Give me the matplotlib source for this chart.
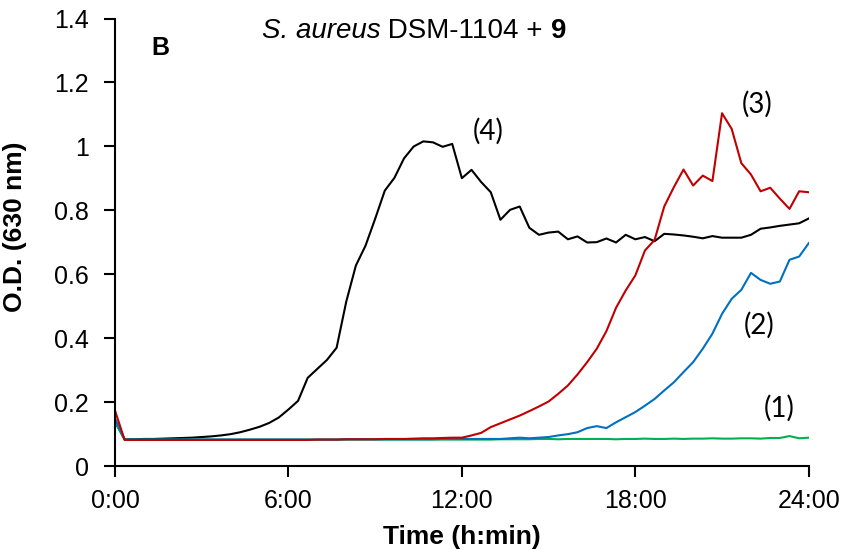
import matplotlib
matplotlib.use("Agg")
import matplotlib.pyplot as plt

# time in hours, one reading every 20 min
time_h = [i / 3 for i in range(73)]

od_4_black = [0.14, 0.085, 0.085, 0.086, 0.086, 0.087, 0.088, 0.089, 0.090, 0.092,
              0.094, 0.097, 0.101, 0.107, 0.115, 0.124, 0.136, 0.153, 0.178, 0.205,
              0.277, 0.305, 0.333, 0.371, 0.515, 0.628, 0.690, 0.774, 0.862, 0.902,
              0.963, 1.000, 1.016, 1.013, 0.999, 1.008, 0.901, 0.927, 0.889, 0.857,
              0.771, 0.802, 0.8125, 0.746, 0.724, 0.731, 0.734, 0.710, 0.719, 0.700,
              0.701, 0.7125, 0.700, 0.724, 0.710, 0.717, 0.704, 0.727, 0.725, 0.722,
              0.718, 0.713, 0.720, 0.715, 0.715, 0.715, 0.724, 0.743, 0.747, 0.752,
              0.756, 0.760, 0.775]

od_3_red = [0.175, 0.083, 0.083, 0.083, 0.083, 0.083, 0.083, 0.083, 0.083, 0.083,
            0.083, 0.083, 0.083, 0.083, 0.083, 0.083, 0.083, 0.083, 0.083, 0.083,
            0.083, 0.084, 0.084, 0.084, 0.085, 0.085, 0.085, 0.085, 0.086, 0.086,
            0.086, 0.087, 0.088, 0.088, 0.089, 0.090, 0.090, 0.097, 0.105, 0.123,
            0.135, 0.147, 0.159, 0.173, 0.1875, 0.203, 0.227, 0.253, 0.2875, 0.326,
            0.368, 0.423, 0.496, 0.550, 0.597, 0.675, 0.708, 0.8125, 0.873, 0.928,
            0.878, 0.909, 0.892, 1.104, 1.055, 0.948, 0.9125, 0.860, 0.871, 0.837,
            0.805, 0.860, 0.857]

od_2_blue = [0.15, 0.084, 0.084, 0.084, 0.084, 0.084, 0.084, 0.084, 0.084, 0.084,
             0.084, 0.084, 0.084, 0.084, 0.084, 0.084, 0.084, 0.084, 0.084, 0.084,
             0.084, 0.084, 0.084, 0.084, 0.085, 0.085, 0.085, 0.085, 0.085, 0.085,
             0.085, 0.085, 0.085, 0.085, 0.086, 0.086, 0.086, 0.086, 0.086, 0.086,
             0.086, 0.088, 0.090, 0.088, 0.090, 0.092, 0.097, 0.101, 0.107, 0.120,
             0.126, 0.120, 0.138, 0.154, 0.170, 0.190, 0.211, 0.2375, 0.263, 0.295,
             0.326, 0.368, 0.415, 0.477, 0.524, 0.552, 0.605, 0.583, 0.571, 0.578,
             0.646, 0.656, 0.698]

od_1_green = [0.14, 0.084, 0.084, 0.084, 0.084, 0.084, 0.084, 0.084, 0.084, 0.084,
              0.084, 0.084, 0.084, 0.084, 0.084, 0.084, 0.084, 0.084, 0.084, 0.084,
              0.084, 0.084, 0.084, 0.084, 0.084, 0.084, 0.084, 0.084, 0.084, 0.084,
              0.084, 0.084, 0.084, 0.084, 0.084, 0.084, 0.084, 0.084, 0.084, 0.084,
              0.085, 0.085, 0.085, 0.085, 0.086, 0.086, 0.085, 0.086, 0.086, 0.086,
              0.086, 0.086, 0.085, 0.086, 0.086, 0.087, 0.086, 0.086, 0.087, 0.086,
              0.087, 0.087, 0.088, 0.087, 0.087, 0.088, 0.088, 0.087, 0.089, 0.089,
              0.095, 0.088, 0.090]

x_ticks = [0, 6, 12, 18, 24]
x_tick_labels = ["0:00", "6:00", "12:00", "18:00", "24:00"]
y_ticks = [0, 0.2, 0.4, 0.6, 0.8, 1.0, 1.2, 1.4]
y_tick_labels = ["0", "0.2", "0.4", "0.6", "0.8", "1", "1.2", "1.4"]

curve_labels = ["(4)", "(3)", "(2)", "(1)"]
label_pos = [(12.9, 1.046), (22.22, 1.133), (22.28, 0.441), (22.98, 0.183)]

plt.rcParams['font.family'] = ['Liberation Sans', 'DejaVu Sans']

fig = plt.figure(figsize=(8.46, 5.54), dpi=100)
ax = fig.add_axes([0.1359, 0.158, 0.956 - 0.1359, 0.9666 - 0.158])

lw = 1.5
ax.plot(time_h, od_4_black, color='#000000', lw=lw)
ax.plot(time_h, od_1_green, color='#00B050', lw=lw)
ax.plot(time_h, od_2_blue, color='#0070C0', lw=lw)
ax.plot(time_h, od_3_red, color='#C00000', lw=lw)

ax.set_xlim(0, 24)
ax.set_ylim(0, 1.4)
ax.set_xticks(x_ticks)
ax.set_xticklabels(x_tick_labels)
ax.set_yticks(y_ticks)
ax.set_yticklabels(y_tick_labels)

for s in ['top', 'right']:
    ax.spines[s].set_visible(False)
for s in ['left', 'bottom']:
    ax.spines[s].set_linewidth(1.5)
ax.tick_params(axis='both', direction='out', length=8, width=1.5, labelsize=18)
ax.tick_params(axis='y', pad=11)
ax.tick_params(axis='x', pad=8)

ax.set_xlabel("Time (h:min)", fontsize=19, fontweight='bold')
ax.xaxis.set_label_coords(0.5, -0.13)
ax.set_ylabel("O.D. (630 nm)", fontsize=19, fontweight='bold')
ax.yaxis.set_label_coords(-0.127, 0.535)

for txt, (xx, yy) in zip(curve_labels, label_pos):
    ax.text(xx, yy, txt, fontsize=20, family=['Lato', 'DejaVu Sans'],
            ha='center', va='center')

# title built from pieces: italic species, regular strain, bold compound number
fig.canvas.draw()
r = fig.canvas.get_renderer()
ty = 1 - 31 / 554
parts = [("S. aureus", dict(style='italic')), (" DSM-1104 + ", {}), ("9", dict(fontweight='bold'))]
objs = []
for txt, kw in parts:
    t = fig.text(0.0, ty, txt, fontsize=20, ha='left', va='center', **kw)
    objs.append(t)
widths = []
for t in objs:
    bb = t.get_window_extent(r)
    widths.append(bb.width / fig.bbox.width)
total = sum(widths)
x = 414 / 846 - total / 2
for t, w in zip(objs, widths):
    t.set_x(x)
    x += w

fig.text(160 / 846, 1 - 48 / 554, "B", fontsize=18, fontweight='bold', ha='center', va='center')

fig.savefig("out.png", dpi=100)
